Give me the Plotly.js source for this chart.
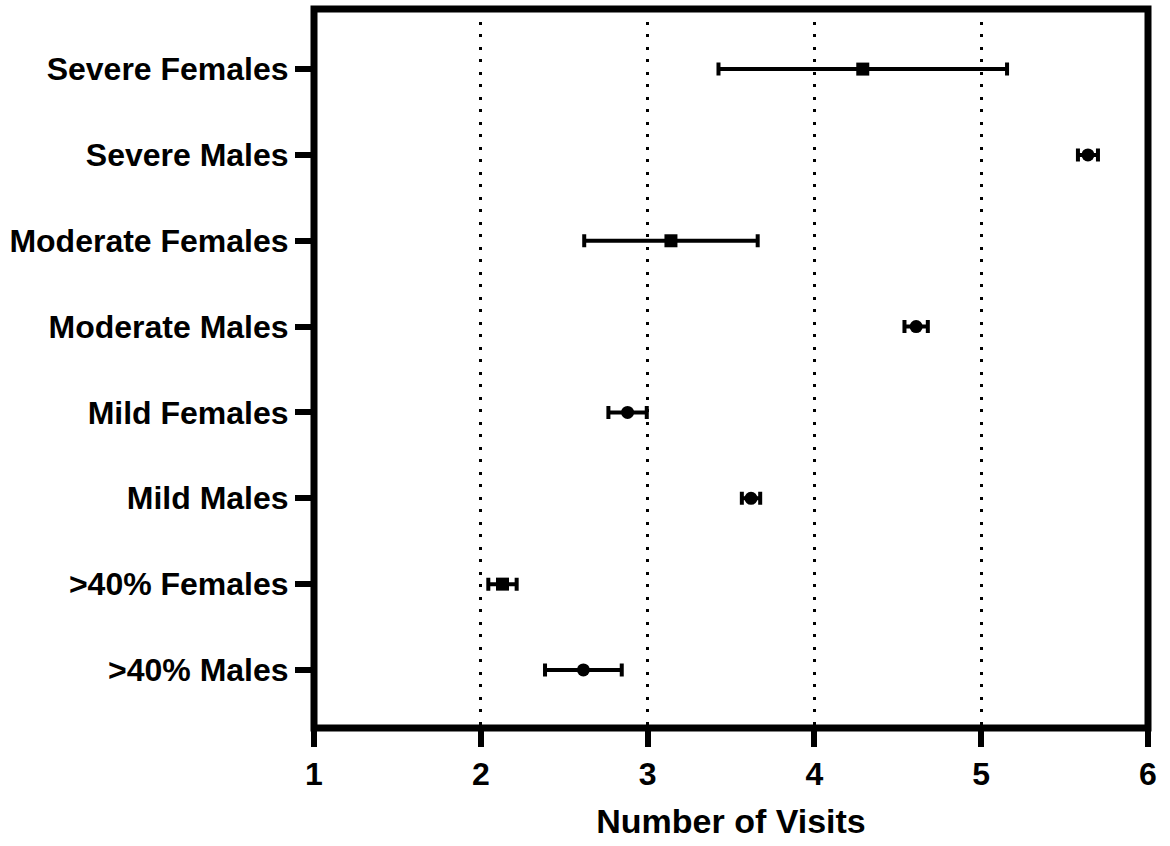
<!DOCTYPE html>
<html>
<head>
<meta charset="utf-8">
<script src="https://cdn.plot.ly/plotly-3.0.1.min.js"></script>
<style>
  html, body { margin: 0; padding: 0; background: #fff; }
  #chart { width: 1170px; height: 846px; }
</style>
</head>
<body>
<div id="chart"></div>
<script>
// ---- data (top to bottom as displayed) ----
const categories = ["Severe Females", "Severe Males", "Moderate Females", "Moderate Males",
                    "Mild Females", "Mild Males", ">40% Females", ">40% Males"];
const meanVisits = [4.29, 5.64, 3.14, 4.61, 2.88, 3.62, 2.13, 2.615];
const errorVisits = [0.865, 0.06, 0.52, 0.07, 0.115, 0.055, 0.085, 0.23];
const xTickValues = [1, 2, 3, 4, 5, 6];
const xTickLabels = ["1", "2", "3", "4", "5", "6"];
const xAxisTitle = "Number of Visits";

// ---- style ----
const markerSymbols = ["square", "circle", "square", "circle", "circle", "circle", "square", "circle"];
const fontFamily = "'Liberation Sans', Arial, Helvetica, sans-serif";

const trace = {
  type: "scatter",
  mode: "markers",
  x: meanVisits,
  y: categories,
  marker: { symbol: markerSymbols, size: 13, color: "#000", line: { width: 0 } },
  error_x: { type: "data", array: errorVisits, visible: true, color: "#000", thickness: 4, width: 6.5 },
  hoverinfo: "x+y",
  showlegend: false
};

const layout = {
  width: 1170,
  height: 846,
  margin: { l: 313.5, r: 21.5, t: 9, b: 118 },
  paper_bgcolor: "#fff",
  plot_bgcolor: "#fff",
  font: { family: fontFamily, color: "#000" },
  xaxis: {
    range: [1, 6],
    tickvals: xTickValues,
    ticktext: xTickLabels,
    ticks: "outside",
    ticklen: 18,
    tickwidth: 6,
    tickcolor: "#000",
    tickfont: { family: fontFamily, size: 32, color: "#000", weight: "bold" },
    showgrid: true,
    gridcolor: "#000",
    gridwidth: 3,
    griddash: "3px,9.5px",
    zeroline: false,
    showline: false,
    title: { text: xAxisTitle, font: { family: fontFamily, size: 34, color: "#000", weight: "bold" }, standoff: 17 }
  },
  yaxis: {
    type: "category",
    categoryorder: "array",
    categoryarray: categories,
    range: [7.676, -0.70],
    ticks: "outside",
    ticklen: 18,
    tickwidth: 6,
    tickcolor: "#000",
    tickfont: { family: fontFamily, size: 32, color: "#000", weight: "bold" },
    showgrid: false,
    zeroline: false,
    showline: false
  },
  shapes: [{
    type: "rect", xref: "paper", yref: "paper", x0: 0, x1: 1, y0: 0, y1: 1,
    line: { color: "#000", width: 7 }, fillcolor: "rgba(0,0,0,0)", layer: "above"
  }]
};

Plotly.newPlot("chart", [trace], layout, { displayModeBar: false, staticPlot: true });
</script>
</body>
</html>
